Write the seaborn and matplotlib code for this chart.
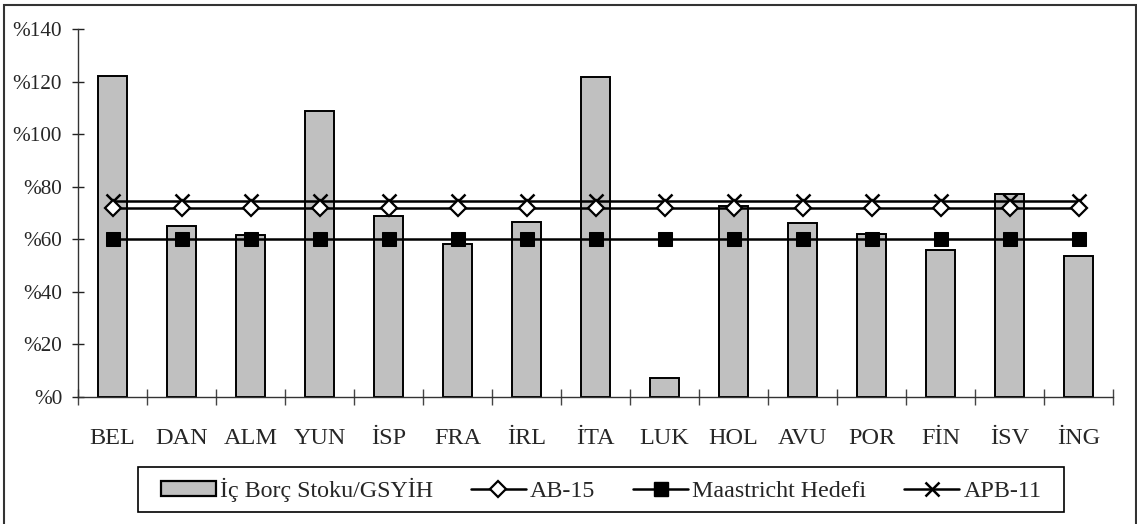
import numpy as np
import pandas as pd
import matplotlib
matplotlib.use("Agg")
import matplotlib.pyplot as plt
from matplotlib.patches import Patch, Rectangle
from matplotlib.lines import Line2D
import seaborn as sns

countries = ["BEL", "DAN", "ALM", "YUN", "İSP", "FRA", "İRL", "İTA",
             "LUK", "HOL", "AVU", "POR", "FİN", "İSV", "İNG"]
debt_ratio = [122.2, 65.2, 61.6, 108.8, 69.0, 58.1, 66.4, 121.7,
              7.1, 72.5, 66.2, 62.1, 56.0, 77.1, 53.5]
ab15 = [72.0] * 15
maastricht = [60.0] * 15
apb11 = [74.5] * 15
y_ticks = [0, 20, 40, 60, 80, 100, 120, 140]
y_tick_labels = ["%0", "%20", "%40", "%60", "%80", "%100", "%120", "%140"]

series_names = ["İç Borç Stoku/GSYİH", "AB-15", "Maastricht Hedefi", "APB-11"]

sns.set_style("white")
plt.rcParams["font.family"] = ["Liberation Serif", "DejaVu Serif"]

df = pd.DataFrame({"ulke": countries, "oran": debt_ratio,
                   "ab15": ab15, "maastricht": maastricht, "apb11": apb11})
df["pos"] = np.arange(len(df))

W, H = 1137, 524
fig = plt.figure(figsize=(W / 100, H / 100), dpi=100)
ax = fig.add_axes([78 / W, 1 - 397 / H, (1113 - 78) / W, (397 - 29) / H])

sns.barplot(data=df, x="ulke", y="oran", color="#c0c0c0", saturation=1,
            width=0.42, edgecolor="black", linewidth=1.4, ax=ax, zorder=2)

diamond_kw = dict(marker="D", markersize=8.4, markerfacecolor="white",
                  markeredgecolor="black", markeredgewidth=1.6)
square_kw = dict(marker="s", markersize=10.5, markerfacecolor="black",
                 markeredgecolor="black")
cross_kw = dict(marker="x", markersize=10, markeredgewidth=1.8,
                markeredgecolor="black")

line_kw = dict(color="black", linewidth=1.8, zorder=3, legend=False)
sns.lineplot(data=df, x="pos", y="apb11", ax=ax, **cross_kw, **line_kw)
sns.lineplot(data=df, x="pos", y="ab15", ax=ax, **diamond_kw, **line_kw)
sns.lineplot(data=df, x="pos", y="maastricht", ax=ax, **square_kw, **line_kw)

n = len(countries)
ax.set_xlim(-0.5, n - 0.5)
ax.set_ylim(0, 140)
ax.set_xlabel("")
ax.set_ylabel("")

# category boundaries carry the tick marks, centers carry the labels
ax.set_xticks(np.arange(n + 1) - 0.5)
ax.set_xticklabels([])
ax.set_xticks(np.arange(n), minor=True)
ax.set_xticklabels(countries, minor=True, fontsize=17.5)
ax.tick_params(axis="x", which="major", direction="inout", length=12,
               width=1, color="#444444", bottom=True)
ax.tick_params(axis="x", which="minor", length=0, pad=22, bottom=True)

ax.set_yticks(y_ticks)
ax.set_yticklabels(y_tick_labels, fontsize=15.3)
ax.tick_params(axis="y", direction="inout", length=9, width=1,
               color="#222222", pad=7, left=True)

for side in ["top", "right"]:
    ax.spines[side].set_visible(False)
for side in ["left", "bottom"]:
    ax.spines[side].set_color("#333333")
    ax.spines[side].set_linewidth(1)
ax.grid(False)

handles = [
    Patch(facecolor="#c0c0c0", edgecolor="black", linewidth=1.6),
    Line2D([], [], color="black", lw=1.8, **diamond_kw),
    Line2D([], [], color="black", lw=1.8, **square_kw),
    Line2D([], [], color="black", lw=1.8, **cross_kw),
]
leg_fs = 17.3
leg = fig.legend(handles, series_names, loc="center",
                 bbox_to_anchor=(601 / W, 1 - 489.5 / H), ncol=4,
                 fontsize=leg_fs, frameon=False, handlelength=2.29,
                 handleheight=0.58, handletextpad=0.17, columnspacing=1.58,
                 borderpad=0.3)

# legend frame
fig.patches.append(Rectangle((138 / W, 1 - 512 / H), (1064 - 138) / W, 45 / H,
                             transform=fig.transFigure, fill=False,
                             edgecolor="black", linewidth=1.2, zorder=5))

# outer chart frame
fig.patches.append(Rectangle((4 / W, -0.05), (1135.5 - 4) / W, 1.05 - 5 / H,
                             transform=fig.transFigure, fill=False,
                             edgecolor="#333333", linewidth=1.5, zorder=0))

fig.savefig("out.png", dpi=100, facecolor="white")
